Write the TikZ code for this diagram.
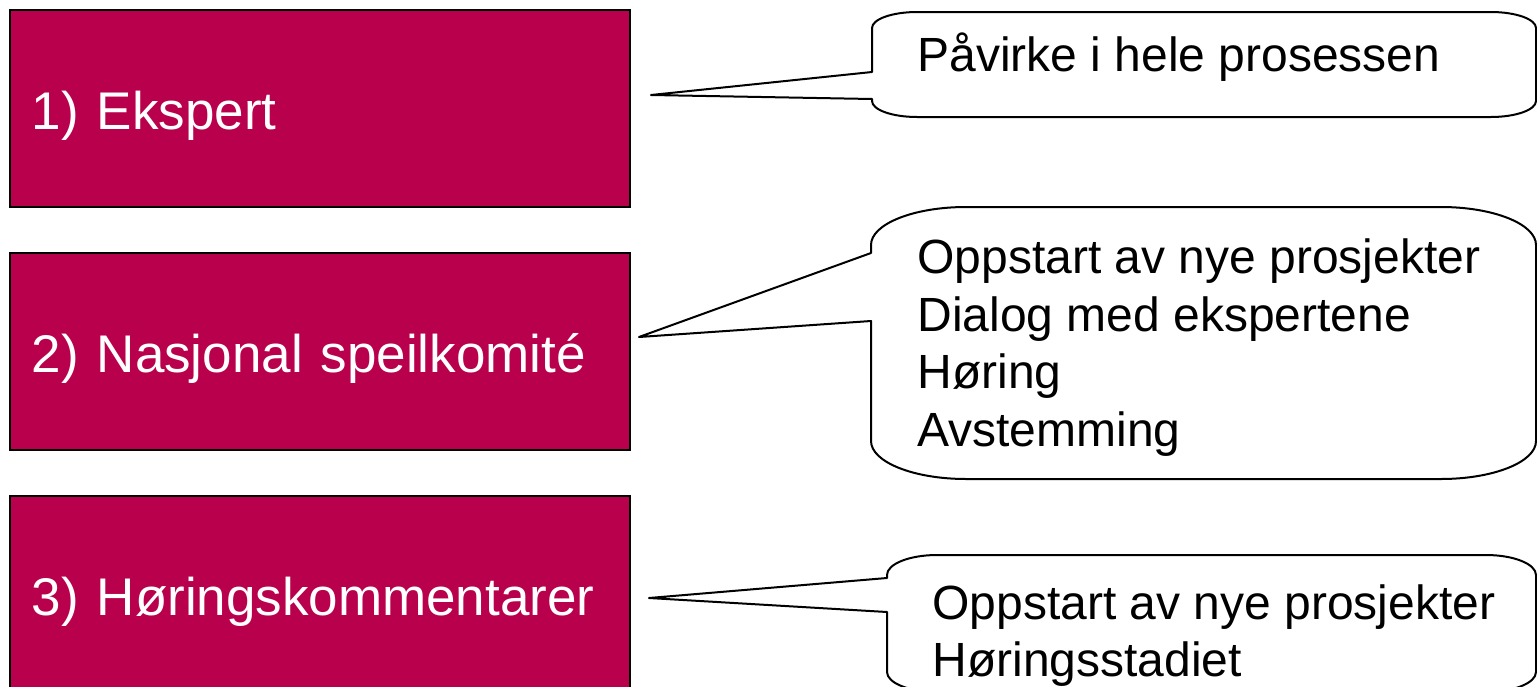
\documentclass[tikz,border=0pt]{standalone}
\usepackage{fontspec}
\setmainfont{Liberation Sans}
\usetikzlibrary{positioning}

\definecolor{vinrod}{RGB}{185,0,76}

\tikzset{
  kasse/.style={draw=black, line width=1pt, fill=vinrod, text=white,
    minimum height=98.5pt, text width=288pt, inner xsep=11pt, align=left,
    text height=20.5pt, text depth=0pt,
    font=\fontsize{26.5}{32}\selectfont},
  boble/.style={draw=black, line width=1pt, fill=white, line join=round},
  bobletekst/.style={anchor=base west, inner sep=0pt, align=left,
    font=\fontsize{24}{28.75}\selectfont}
}

\begin{document}
\begin{tikzpicture}[x=0.5pt, y=-0.5pt]
    \useasboundingbox (0,0) rectangle (1537,686);
    \clip (0,0) rectangle (1537,686);

    % Define boxes
    \node[kasse]		(ekspert)		at (320,108.5)	{1) Ekspert};
    \node[kasse, below = 22pt of ekspert]		(speil)		{2) Nasjonal speilkomité};
    \node[kasse, below = 22pt of speil]		(horing)		{3) Høringskommentarer};

    % Callouts
    \draw[boble] (872,72) -- (651,95) -- (872,99) -- (872,101)
        .. controls (872,109.8) and (892.2,117) .. (917,117) -- (1491,117)
        .. controls (1515.8,117) and (1536,109.8) .. (1536,101) -- (1536,28)
        .. controls (1536,19.2) and (1515.8,12) .. (1491,12) -- (917,12)
        .. controls (892.2,12) and (872,19.2) .. (872,28) -- cycle;
    \draw[boble] (871,253) -- (639,337) -- (871,321) -- (871,441)
        .. controls (871,462) and (913.6,479) .. (966,479) -- (1441,479)
        .. controls (1493.4,479) and (1536,462) .. (1536,441) -- (1536,245)
        .. controls (1536,224) and (1493.4,207) .. (1441,207) -- (966,207)
        .. controls (913.6,207) and (871,224) .. (871,245) -- cycle;
    \draw[boble] (887,578) -- (649,598) -- (887,612) -- (887,672)
        .. controls (887,683) and (909.4,692) .. (937,692) -- (1486,692)
        .. controls (1513.6,692) and (1536,683) .. (1536,672) -- (1536,575)
        .. controls (1536,564) and (1513.6,555) .. (1486,555) -- (937,555)
        .. controls (909.4,555) and (887,564) .. (887,575) -- cycle;

    % Callout texts (base = last line)
    \node[bobletekst]		(hele)		at (917,71)	{Påvirke i hele prosessen};
    \node[bobletekst]		(nasjonal)		at (917,446)
        {Oppstart av nye prosjekter\\Dialog med ekspertene\\Høring\\Avstemming};
    \node[bobletekst]		(kommentar)		at (932,676.5)
        {Oppstart av nye prosjekter\\Høringsstadiet};
\end{tikzpicture}
\end{document}
